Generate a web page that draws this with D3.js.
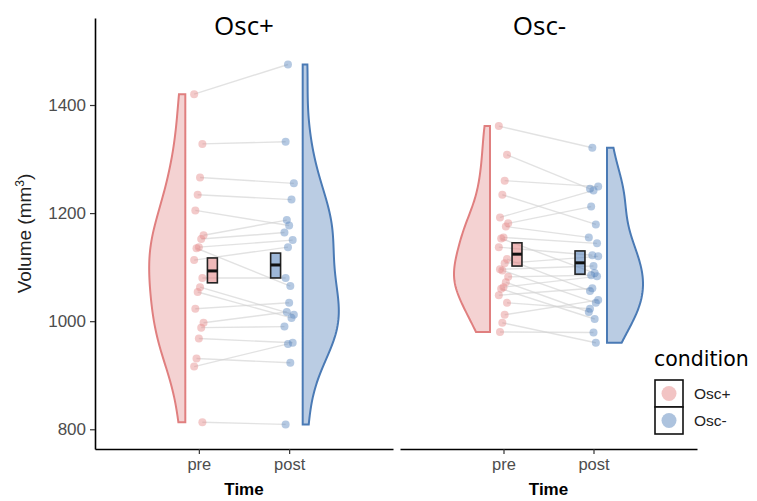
<!DOCTYPE html>
<html><head><meta charset="utf-8">
<script src="https://cdn.jsdelivr.net/npm/d3@7"></script>
<style>body{margin:0;background:#fff}</style>
</head><body><svg id="c" width="757" height="501"></svg>
<script>
// ---------- data ----------
const panels = ["Osc+", "Osc-"];
const times = ["pre", "post"];
const yTicks = [800, 1000, 1200, 1400];
// paired values (same index = same subject)
const oscPlusPre  = [1420,1328,1266,1234,1205,1159,1152,1137,1135,1113,1080,1063,1054,1023,997,988,968,931,916,813];
const oscPlusPost = [1475,1332,1255,1225,1177,1187,1164,1150,1065,1137,1080,1012,1006,1034,1017,990,960,923,958,809];
const oscMinusPre  = [1361,1308,1260,1234,1192,1181,1175,1155,1153,1137,1115,1107,1094,1096,1082,1072,1063,1060,1048,1034,1012,997,980];
const oscMinusPost = [1321,1245,1249,1179,1242,1212,1155,1144,1089,1122,1056,1120,1034,1102,1085,1017,1083,1004,1061,1023,1039,960,979];
// summary boxes: [pre, post] per panel
const boxMid  = [[1093,1104],[1124,1108]];
const boxLow  = [[1071,1080],[1102,1087]];
const boxHigh = [[1117,1126],[1145,1130]];

const panelData = [[oscPlusPre, oscPlusPost],[oscMinusPre, oscMinusPost]];

// ---------- styles ----------
const lineCol = ["#E07F7F", "#4A7AB5"];
const fillCol = ["rgba(224,127,127,0.35)", "rgba(74,122,181,0.38)"];
const ptCol = ["#E58A8A", "#5B87BE"];

const svg = d3.select("#c");
const yTop = 18, yBottom = 449;
const panelX = [[95, 393], [400, 697]];
const y = d3.scaleLinear().domain([763.5, 1561]).range([yBottom, yTop]);

function nrd0(v) {
  const s = v.slice().sort(d3.ascending);
  const sd = d3.deviation(s);
  const iqr = d3.quantile(s, 0.75) - d3.quantile(s, 0.25);
  return 0.9 * Math.min(sd, iqr / 1.34) * Math.pow(s.length, -0.2);
}
function kde(v) {
  const bw = nrd0(v), lo = d3.min(v), hi = d3.max(v), n = 120;
  return d3.range(n + 1).map(i => {
    const t = lo + (hi - lo) * i / n;
    return [t, d3.mean(v, d => Math.exp(-0.5 * ((t - d) / bw) ** 2)) / (bw * Math.sqrt(2 * Math.PI))];
  });
}

panels.forEach((pname, p) => {
  const [x0, x1] = panelX[p];
  const x = d3.scaleLinear().domain([-0.15, 3.15]).range([x0, x1]);
  const g = svg.append("g");
  const [pre, post] = panelData[p];
  const jit = i => ((i * 7) % 9 - 4) * 0.013;

  // paired lines
  g.selectAll("line.pair").data(pre).join("line")
    .attr("x1", (d, i) => x(1 + jit(i))).attr("y1", d => y(d))
    .attr("x2", (d, i) => x(2 + jit(i + 3))).attr("y2", (d, i) => y(post[i]))
    .attr("stroke", "#d3d3d3").attr("stroke-opacity", 0.65).attr("stroke-width", 1.4);

  // points
  [pre, post].forEach((vals, t) => {
    g.selectAll(null).data(vals).join("circle")
      .attr("cx", (d, i) => x(t + 1 + jit(i + 3 * t)))
      .attr("cy", d => y(d)).attr("r", 4)
      .attr("fill", ptCol[t]).attr("fill-opacity", 0.45);
  });

  // half violins
  [pre, post].forEach((vals, t) => {
    const dens = kde(vals);
    const mx = d3.max(dens, d => d[1]);
    const side = t === 0 ? -1 : 1;
    const base = (t + 1) + side * 0.15;
    const pts = [[x(base), y(dens[0][0])]]
      .concat(dens.map(d => [x(base + side * 0.4 * d[1] / mx), y(d[0])]))
      .concat([[x(base), y(dens[dens.length - 1][0])]]);
    g.append("path").attr("d", d3.line()(pts) + "Z")
      .attr("fill", fillCol[t]).attr("stroke", lineCol[t]).attr("stroke-width", 2)
      .attr("stroke-linejoin", "miter");
  });

  // summary boxes
  times.forEach((tn, t) => {
    const cx = (t + 1) + (t === 0 ? 0.15 : -0.15);
    const bw = 0.055;
    g.append("rect").attr("x", x(cx - bw)).attr("width", x(cx + bw) - x(cx - bw))
      .attr("y", y(boxHigh[p][t])).attr("height", y(boxLow[p][t]) - y(boxHigh[p][t]))
      .attr("fill", ptCol[t]).attr("fill-opacity", 0.6)
      .attr("stroke", "#222").attr("stroke-width", 1.6);
    g.append("line").attr("x1", x(cx - bw)).attr("x2", x(cx + bw))
      .attr("y1", y(boxMid[p][t])).attr("y2", y(boxMid[p][t]))
      .attr("stroke", "#111").attr("stroke-width", 3);
  });

  // x axis
  const xa = g.append("g").attr("transform", `translate(0,${yBottom})`)
    .call(d3.axisBottom(x).tickValues([1, 2]).tickFormat(d => times[d - 1]).tickSizeInner(5).tickSizeOuter(0).tickPadding(4));
  xa.select(".domain").attr("stroke", "#000").attr("stroke-width", 1.6);
  xa.selectAll(".tick line").attr("stroke", "#333").attr("stroke-width", 1.2);
  xa.selectAll(".tick text").attr("fill", "#4d4d4d").style("font-family", "Liberation Sans, Arial, sans-serif").style("font-size", "16.5px");

  g.append("text").attr("x", (x0 + x1) / 2).attr("y", 495).attr("text-anchor", "middle")
    .style("font-family", "Liberation Sans, Arial, sans-serif").style("font-size", "17px").style("font-weight", "bold")
    .text("Time");

  // panel title
  g.append("text").attr("x", (x0 + x1) / 2 - (p === 1 ? 9 : 0)).attr("y", 35).attr("text-anchor", "middle")
    .style("font-family", "Open Sans, sans-serif").style("font-size", "26px").attr("fill", "#000")
    .text(pname);
});

// y axis
const ya = svg.append("g").attr("transform", `translate(${panelX[0][0]},0)`)
  .call(d3.axisLeft(y).tickValues(yTicks).tickFormat(d3.format("d")).tickSizeInner(5).tickSizeOuter(0).tickPadding(4));
ya.select(".domain").attr("stroke", "#000").attr("stroke-width", 1.6);
ya.selectAll(".tick line").attr("stroke", "#333").attr("stroke-width", 1.2);
ya.selectAll(".tick text").attr("fill", "#4d4d4d").style("font-family", "Liberation Sans, Arial, sans-serif").style("font-size", "17px");

const yl = svg.append("text").attr("transform", `translate(31,${(yTop + yBottom) / 2}) rotate(-90)`)
  .attr("text-anchor", "middle").style("font-family", "Liberation Sans, Arial, sans-serif").style("font-size", "19px").attr("fill", "#222");
yl.append("tspan").text("Volume (mm");
yl.append("tspan").attr("dy", -7).style("font-size", "12px").text("3");
yl.append("tspan").attr("dy", 7).text(")");

// legend
const lg = svg.append("g");
lg.append("text").attr("x", 654).attr("y", 366).style("font-family", "DejaVu Sans, sans-serif").style("font-size", "20.5px").text("condition");
panels.forEach((nm, i) => {
  const ky = 380 + i * 27;
  lg.append("rect").attr("x", 655).attr("y", ky).attr("width", 28).attr("height", 27)
    .attr("fill", "#fff").attr("stroke", "#111").attr("stroke-width", 1.6);
  lg.append("circle").attr("cx", 669).attr("cy", ky + 13.5).attr("r", 7.5)
    .attr("fill", ptCol[i]).attr("fill-opacity", 0.5);
  lg.append("text").attr("x", 694).attr("y", ky + 19).style("font-family", "Liberation Sans, Arial, sans-serif")
    .style("font-size", "15.5px").attr("fill", "#222").text(nm);
});
</script></body></html>
